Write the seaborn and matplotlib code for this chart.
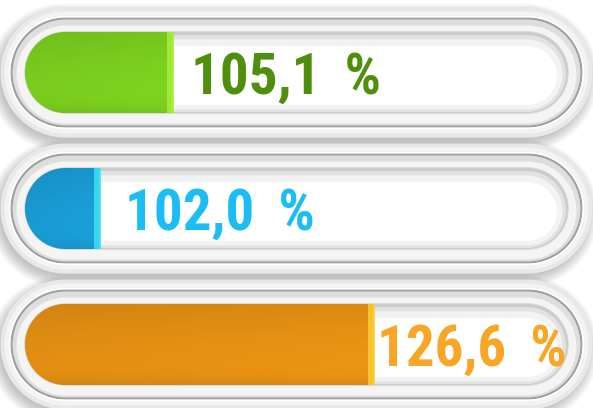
import numpy as np
import pandas as pd
import matplotlib
matplotlib.use("Agg")
import matplotlib.pyplot as plt
import seaborn as sns
from matplotlib.path import Path
from matplotlib.patches import PathPatch, Rectangle


# ==============================
# Data
# ==============================

rows = ["A", "B", "C"]
values = [105.1, 102.0, 126.6]
fill_levels = [27.3, 13.8, 64.3]      # how far each bar runs along its track (% of track)

bar_colors = ["#7fd620", "#1aa2dc", "#ed9614"]
tip_colors = ["#a8f03c", "#40e4f6", "#fbd03a"]
text_colors = ["#4f8f0c", "#1bbdf4", "#f9a526"]


# ==============================
# Layout (pixels)
# ==============================

W, H = 593, 408
TRACK_X0, TRACK_X1 = 25, 568
ROW_TOP = 72.5          # centre of first track, from top
ROW_STEP = 136          # distance between tracks
TRACK_HALF_PX = 40.5
label_pad_px = [18, 25, 3]

PX = (TRACK_X1 - TRACK_X0) / 100.0     # pixels per x unit
half = TRACK_HALF_PX / ROW_STEP        # half height of the track in y units


def capsule(y, grow_px=0.0, dy_px=0.0, dx_px=0.0):
    """Pill shaped path around track y, grown by grow_px pixels."""
    r = TRACK_HALF_PX + grow_px
    centres = np.array([TRACK_HALF_PX, (TRACK_X1 - TRACK_X0) - TRACK_HALF_PX]) / PX
    verts, codes = [], []
    for c, (a0, a1) in zip(centres, [(90, 270), (270, 450)]):
        arc = Path.arc(a0, a1)
        v = arc.vertices.copy()
        v[:, 0] = c + (v[:, 0] * r + dx_px) / PX
        v[:, 1] = y + (v[:, 1] * r + dy_px) / ROW_STEP
        cd = arc.codes.copy()
        if codes:
            cd[0] = Path.LINETO
        verts.append(v)
        codes.append(cd)
    verts = np.vstack(verts + [verts[0][:1]])
    codes = np.concatenate(codes + [np.array([Path.CLOSEPOLY])])
    return Path(verts, codes)


def inner_shade(y, grow_px, strokes, z):
    """Strokes along the edge, clipped inside, give an inset shadow."""
    clip = PathPatch(capsule(y, grow_px), facecolor="none", edgecolor="none")
    ax.add_patch(clip)
    for lw, col, dy in strokes:
        p = PathPatch(capsule(y, grow_px, dy_px=dy), facecolor="none",
                      edgecolor=col, lw=lw, zorder=z)
        ax.add_patch(p)
        p.set_clip_path(clip)
    return clip


# ==============================
# Figure
# ==============================

sns.set_theme(style="white")
fig = plt.figure(figsize=(W / 100, H / 100), dpi=100)
ax = fig.add_axes([0, 0, 1, 1])

df = pd.DataFrame({"row": rows, "fill": fill_levels})
sns.barplot(data=df, x="fill", y="row", hue="row", palette=bar_colors,
            orient="h", width=2 * half, saturation=1, legend=False,
            linewidth=0, ax=ax, zorder=5)
bars = sorted(ax.patches, key=lambda b: b.get_y())

ax.set_xlim(-TRACK_X0 / PX, (W - TRACK_X0) / PX)
ax.set_ylim((H - ROW_TOP) / ROW_STEP, -ROW_TOP / ROW_STEP)
ax.axis("off")

for i, (bar, fill, val) in enumerate(zip(bars, fill_levels, values)):
    y = i

    # soft drop shadow under the outer body, mostly down and left
    for k in range(10):
        ax.add_patch(PathPatch(capsule(y, 22 + k * 1.3, dy_px=5, dx_px=-3),
                               facecolor="#000000", alpha=0.024,
                               edgecolor="none", zorder=1))

    # outer white body
    ax.add_patch(PathPatch(capsule(y, 24), facecolor="#fdfdfd",
                           edgecolor="#e2e2e2", lw=0.8, zorder=2))
    inner_shade(y, 24, [(12, "#f3f3f3", 0), (5, "#e8e8e8", 0)], 2.1)

    # groove ring
    ax.add_patch(PathPatch(capsule(y, 12.5), facecolor="#f4f4f4",
                           edgecolor="none", zorder=2.2))
    ax.add_patch(PathPatch(capsule(y, 13.5), facecolor="none",
                           edgecolor="#a0a0a0", lw=1.6, zorder=2.3))
    ax.add_patch(PathPatch(capsule(y, 15.3), facecolor="none",
                           edgecolor="#ffffff", lw=1.0, zorder=2.3))
    inner_shade(y, 12.6, [(6, "#dedede", 2)], 2.25)

    # track
    track = PathPatch(capsule(y, 0), facecolor="#ffffff",
                      edgecolor="#c8c8c8", lw=0.8, zorder=3)
    ax.add_patch(track)
    for lw, col, dy in [(16, "#f3f3f3", 3), (8, "#e2e2e2", 2), (3, "#cccccc", 1)]:
        p = PathPatch(capsule(y, 0, dy_px=dy), facecolor="none", edgecolor=col,
                      lw=lw, zorder=3.1)
        ax.add_patch(p)
        p.set_clip_path(track)

    # bar clipped by the track so its left end is round
    bar.set_clip_path(track)

    # light shading over the bar
    gy = np.linspace(0, 1, 60)[:, None]
    gx = np.linspace(0, 1, 60)[None, :]
    shade = np.zeros((60, 60, 4))
    shade[..., 3] = 0.08 * (1 - gy) ** 2 + 0.04 * (1 - gx) + 0.08 * gy ** 10
    img = ax.imshow(shade, extent=(0, fill, y + half, y - half),
                    aspect="auto", zorder=5.5, interpolation="bilinear")
    img.set_clip_path(track)

    # light tip at the end of the bar
    tip = Rectangle((fill - 6 / PX, y - half), 6 / PX, 2 * half,
                    facecolor=tip_colors[i], edgecolor="none",
                    alpha=0.8, zorder=6)
    ax.add_patch(tip)
    tip.set_clip_path(track)
    ax.vlines(fill, y - half, y + half, color=tip_colors[i], lw=1.2, zorder=6.1)

    label = f"{val:.1f}".replace(".", ",") + " \u2009%"
    ax.text(fill + label_pad_px[i] / PX, y, label, ha="left", va="center_baseline",
            fontsize=41, fontweight="black", color=text_colors[i],
            family=["Roboto Condensed", "Roboto", "DejaVu Sans"],
            zorder=7)

fig.savefig("out.png", dpi=100, facecolor="white")
